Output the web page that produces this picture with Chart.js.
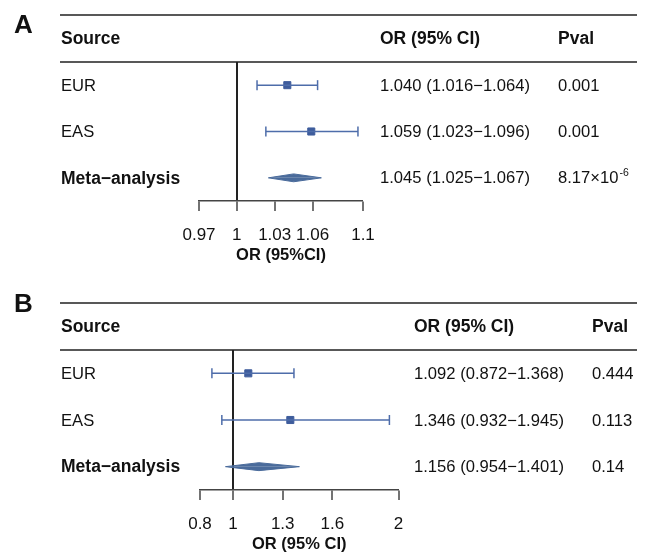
<!DOCTYPE html>
<html>
<head>
<meta charset="utf-8">
<script src="https://cdn.jsdelivr.net/npm/chart.js@4.4.0/dist/chart.umd.min.js"></script>
<style>
  html, body { margin: 0; padding: 0; background: #fff; }
  .panel { position: absolute; left: 0; width: 645px; }
</style>
</head>
<body>
<div class="panel" style="top:0;height:276px"><canvas id="chartA"></canvas></div>
<div class="panel" style="top:276px;height:277px"><canvas id="chartB"></canvas></div>
<script>
// ---- data: panel A ----
const sourcesA = ["EUR", "EAS", "Meta\u2212analysis"];
const orA = [1.040, 1.059, 1.045];
const lowerA = [1.016, 1.023, 1.025];
const upperA = [1.064, 1.096, 1.067];
const pvalA = ["0.001", "0.001", "8.17\u00d710^-6"];
const ticksA = [0.97, 1, 1.03, 1.06, 1.1];
const tickLabelsA = ["0.97", "1", "1.03", "1.06", "1.1"];

// ---- data: panel B ----
const sourcesB = ["EUR", "EAS", "Meta\u2212analysis"];
const orB = [1.092, 1.346, 1.156];
const lowerB = [0.872, 0.932, 0.954];
const upperB = [1.368, 1.945, 1.401];
const pvalB = ["0.444", "0.113", "0.14"];
const ticksB = [0.8, 1, 1.3, 1.6, 2];
const tickLabelsB = ["0.8", "1", "1.3", "1.6", "2"];

const rows = [1, 2, 3];
const isMeta = [false, false, true];

const FONT = "'Liberation Sans', Arial, Helvetica, sans-serif";
const CI_COLOR = "#4e6daa";
const SQ_COLOR = "#3e5c9c";
const DIA_COLOR = "#4a6b9b";
const DIA_HALF = 0.085; // diamond half-height in row units
const INK = "#111";

Chart.defaults.font.family = FONT;

const fmt = (v) => v.toFixed(3);

function tablePlugin(p) {
  return {
    id: "forestTable" + p.letter,
    afterDraw(chart) {
      const { ctx, chartArea } = chart;
      const y = chart.scales.y;
      ctx.save();

      // panel letter
      ctx.fillStyle = INK;
      ctx.font = "bold 26px " + FONT;
      ctx.textBaseline = "alphabetic";
      ctx.textAlign = "left";
      ctx.fillText(p.letter, 14, p.letterY);

      // rules
      ctx.strokeStyle = "#222";
      ctx.lineWidth = 1.5;
      ctx.beginPath();
      ctx.moveTo(60, p.ruleY);
      ctx.lineTo(637, p.ruleY);
      ctx.moveTo(60, chartArea.top);
      ctx.lineTo(637, chartArea.top);
      ctx.stroke();

      // header
      const hy = (p.ruleY + chartArea.top) / 2 + 1;
      ctx.textBaseline = "middle";
      ctx.font = "bold 17.5px " + FONT;
      ctx.fillText("Source", 61, hy);
      ctx.fillText("OR (95% CI)", p.orX, hy);
      ctx.fillText("Pval", p.pX, hy);

      // rows
      p.sources.forEach((s, i) => {
        const ry = y.getPixelForValue(rows[i]) + 1;
        ctx.font = isMeta[i] ? "bold 17.5px " + FONT : "16.6px " + FONT;
        ctx.fillText(s, 61, ry);
        ctx.font = "16.6px " + FONT;
        ctx.fillText(fmt(p.or[i]) + " (" + fmt(p.lower[i]) + "\u2212" + fmt(p.upper[i]) + ")", p.orX, ry);
        const parts = p.pval[i].split("^");
        ctx.fillText(parts[0], p.pX, ry);
        if (parts[1]) {
          const w = ctx.measureText(parts[0]).width;
          ctx.font = "10.5px " + FONT;
          ctx.fillText(parts[1], p.pX + w + 1, ry - 6);
        }
      });
      ctx.restore();
    }
  };
}

function makePanel(canvasId, p) {
  const datasets = [];
  rows.forEach((r, i) => {
    if (isMeta[i]) {
      // diamond as two filled triangles
      [-1, 1].forEach((sgn) => {
        datasets.push({
          data: [
            { x: p.lower[i], y: r },
            { x: p.or[i], y: r + sgn * DIA_HALF },
            { x: p.upper[i], y: r }
          ],
          borderColor: DIA_COLOR,
          backgroundColor: DIA_COLOR,
          borderWidth: 1,
          pointRadius: 0,
          fill: { value: r }
        });
      });
    } else {
      // confidence interval with end caps
      datasets.push({
        data: [{ x: p.lower[i], y: r }, { x: p.upper[i], y: r }],
        borderColor: CI_COLOR,
        borderWidth: 1.5,
        pointStyle: "line",
        pointRotation: 90,
        pointRadius: 5,
        pointBorderWidth: 1.5,
        pointBorderColor: CI_COLOR,
        fill: false
      });
    }
  });
  // point estimates (squares)
  datasets.push({
    data: rows.filter((r, i) => !isMeta[i]).map((r) => ({ x: p.or[r - 1], y: r })),
    showLine: false,
    pointStyle: "rect",
    pointRadius: 5,
    pointBackgroundColor: SQ_COLOR,
    pointBorderColor: SQ_COLOR,
    pointBorderWidth: 1
  });

  return new Chart(document.getElementById(canvasId), {
    type: "line",
    data: { datasets },
    options: {
      responsive: true,
      maintainAspectRatio: false,
      animation: false,
      events: [],
      layout: { padding: p.padding },
      plugins: { legend: { display: false }, tooltip: { enabled: false } },
      scales: {
        x: {
          type: "linear",
          min: p.ticks[0],
          max: p.ticks[p.ticks.length - 1],
          z: 1,
          afterBuildTicks: (s) => { s.ticks = p.ticks.map((v) => ({ value: v })); },
          afterFit: (s) => { s.height = 63; },
          grid: {
            drawOnChartArea: true,
            color: (c) => (c.tick && c.tick.value === 1 ? "#222" : "rgba(0,0,0,0)"),
            lineWidth: (c) => (c.tick && c.tick.value === 1 ? 2 : 0),
            tickColor: "#444",
            tickWidth: 1.5,
            tickLength: 10
          },
          border: { display: true, color: "#444", width: 1.5 },
          ticks: {
            autoSkip: false,
            maxRotation: 0,
            padding: 14,
            color: INK,
            font: { size: 17 },
            callback: (v, i) => p.tickLabels[i]
          },
          title: {
            display: true,
            text: p.xTitle,
            color: INK,
            font: { size: 16.5, weight: "bold", lineHeight: 1 },
            padding: 0
          }
        },
        y: { type: "linear", reverse: true, min: 0.5, max: 3.5, display: false }
      }
    },
    plugins: [tablePlugin(p)]
  });
}

makePanel("chartA", {
  letter: "A", letterY: 33, ruleY: 15, orX: 380, pX: 558,
  padding: { left: 199, right: 282, top: 62, bottom: 12 },
  xTitle: "OR (95%CI)",
  sources: sourcesA, or: orA, lower: lowerA, upper: upperA, pval: pvalA,
  ticks: ticksA, tickLabels: tickLabelsA
});

makePanel("chartB", {
  letter: "B", letterY: 36, ruleY: 27, orX: 414, pX: 592,
  padding: { left: 200, right: 246.5, top: 74, bottom: 0 },
  xTitle: "OR (95% CI)",
  sources: sourcesB, or: orB, lower: lowerB, upper: upperB, pval: pvalB,
  ticks: ticksB, tickLabels: tickLabelsB
});
</script>
</body>
</html>
